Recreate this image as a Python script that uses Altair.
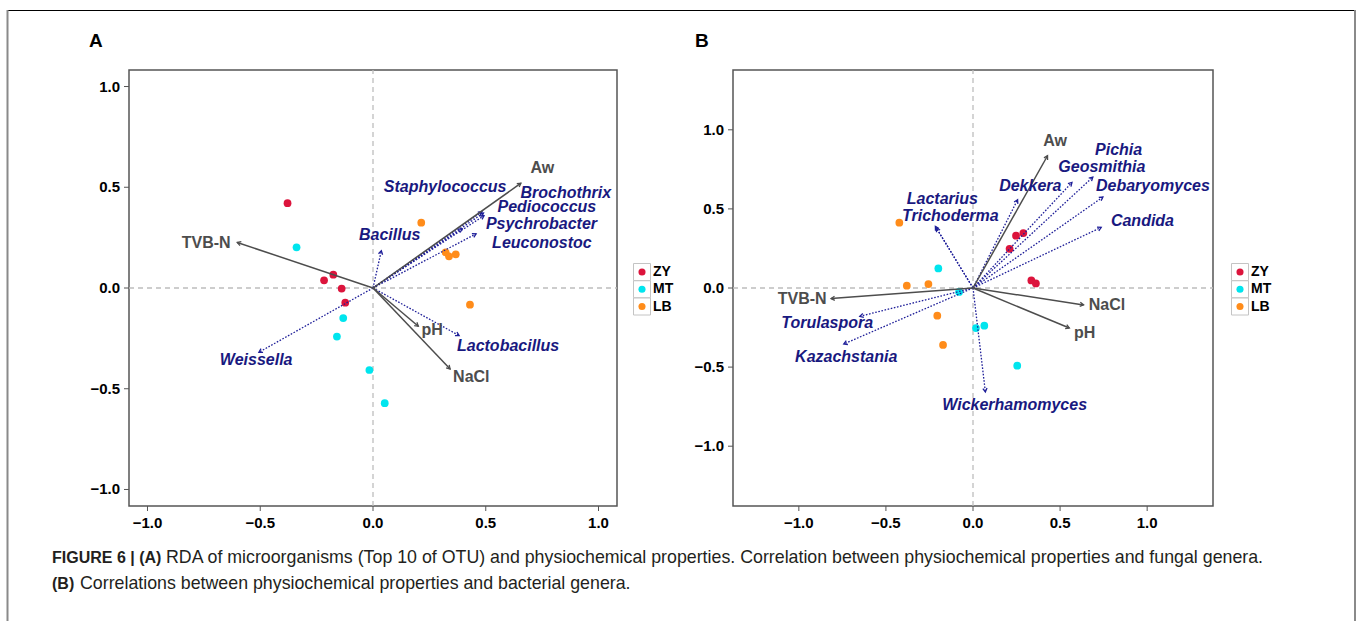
import math

import altair as alt
import pandas as pd

FONT = "Liberation Sans"
GROUPS = ["ZY", "MT", "LB"]
GROUP_COLORS = ["#DC143C", "#00E5EE", "#FF8C1A"]
ENV_COLOR = "#4d4d4d"
GEN_COLOR = "#1f1f99"
GEN_TEXT = "#191980"
TICKS = [-1.0, -0.5, 0.0, 0.5, 1.0]

# ---------------- Panel A ----------------
a_site_group = ["ZY"] * 5 + ["MT"] * 5 + ["LB"] * 5
a_site_x = [-0.379, -0.176, -0.217, -0.139, -0.123,
            -0.339, -0.132, -0.160, -0.016, 0.052,
            0.214, 0.322, 0.337, 0.367, 0.430]
a_site_y = [0.421, 0.066, 0.038, -0.003, -0.073,
            0.202, -0.149, -0.241, -0.407, -0.572,
            0.324, 0.177, 0.157, 0.167, -0.083]

a_env = ["TVB-N", "Aw", "pH", "NaCl"]
a_env_x = [-0.602, 0.656, 0.201, 0.342]
a_env_y = [0.226, 0.520, -0.190, -0.402]
a_env_lx = [-0.740, 0.751, 0.262, 0.436]
a_env_ly = [0.223, 0.595, -0.210, -0.443]

a_gen = ["Staphylococcus", "Brochothrix", "Pediococcus", "Psychrobacter",
         "Leuconostoc", "Bacillus", "Weissella", "Lactobacillus"]
a_gen_x = [0.395, 0.483, 0.490, 0.492, 0.457, 0.037, -0.506, 0.382]
a_gen_y = [0.294, 0.378, 0.372, 0.359, 0.269, 0.185, -0.319, -0.236]
a_gen_lx = [0.320, 0.855, 0.771, 0.747, 0.749, 0.074, -0.518, 0.599]
a_gen_ly = [0.502, 0.471, 0.400, 0.317, 0.225, 0.261, -0.359, -0.289]

# ---------------- Panel B ----------------
b_site_group = ["ZY"] * 5 + ["MT"] * 5 + ["LB"] * 5
b_site_x = [0.247, 0.289, 0.210, 0.335, 0.361,
            -0.199, -0.080, 0.017, 0.065, 0.254,
            -0.423, -0.380, -0.256, -0.205, -0.172]
b_site_y = [0.331, 0.347, 0.248, 0.048, 0.029,
            0.124, -0.025, -0.253, -0.238, -0.491,
            0.413, 0.015, 0.025, -0.175, -0.360]

b_env = ["Aw", "TVB-N", "NaCl", "pH"]
b_env_x = [0.428, -0.815, 0.635, 0.553]
b_env_y = [0.836, -0.067, -0.107, -0.253]
b_env_lx = [0.472, -0.981, 0.769, 0.641]
b_env_ly = [0.931, -0.067, -0.107, -0.284]

b_gen = ["Lactarius", "Trichoderma", "Dekkera", "Geosmithia", "Pichia",
         "Debaryomyces", "Candida", "Torulaspora", "Kazachstania",
         "Wickerhamomyces"]
b_gen_x = [-0.216, -0.210, 0.256, 0.568, 0.688, 0.746, 0.736, -0.650, -0.742, 0.071]
b_gen_y = [0.389, 0.379, 0.558, 0.667, 0.701, 0.575, 0.383, -0.179, -0.354, -0.657]
b_gen_lx = [-0.176, -0.130, 0.329, 0.740, 0.836, 1.033, 0.973, -0.837, -0.728, 0.239]
b_gen_ly = [0.562, 0.453, 0.646, 0.768, 0.874, 0.646, 0.425, -0.221, -0.436, -0.741]

CAPTION_1B = "FIGURE 6 | (A)"
CAPTION_1 = ("RDA of microorganisms (Top 10 of OTU) and physiochemical properties. "
             "Correlation between physiochemical properties and fungal genera.")
CAPTION_2B = "(B)"
CAPTION_2 = "Correlations between physiochemical properties and bacterial genera."

# open arrow head, tip at the symbol centre, pointing up before rotation
ARROW_HEAD = "M-0.5,0.866L0,0L0.5,0.866"


def vectors(names, xs, ys, lxs, lys, kx, ky):
    df = pd.DataFrame({"name": names, "x": xs, "y": ys, "lx": lxs, "ly": lys})
    df["x0"] = 0.0
    df["y0"] = 0.0
    df["angle"] = [
        math.degrees(math.atan2(x * kx, y * ky)) % 360 for x, y in zip(xs, ys)
    ]
    return df


def panel(dom, xr, yr, groups, sx, sy, env, gen):
    kx = (xr[1] - xr[0]) / (2 * dom)
    ky = (yr[0] - yr[1]) / (2 * dom)
    xs = alt.Scale(domain=[-dom, dom], range=xr, nice=False, zero=False)
    ys = alt.Scale(domain=[-dom, dom], range=yr, nice=False, zero=False)

    def X(field):
        return alt.X(field, scale=xs, axis=None)

    def Y(field):
        return alt.Y(field, scale=ys, axis=None)

    frame_df = pd.DataFrame({"x0": [-dom], "x1": [dom], "y0": [-dom], "y1": [dom]})
    frame = alt.Chart(frame_df).mark_rect(
        fillOpacity=0, stroke="#555555", strokeWidth=1.5
    ).encode(x=X("x0:Q"), x2="x1:Q", y=Y("y0:Q"), y2="y1:Q")

    # tick marks and tick labels, placed through the panel's own scales
    tick_df = pd.DataFrame({"v": TICKS})
    tick_text = dict(font=FONT, fontSize=15, fontWeight="bold", color="black")
    x_ticks = alt.Chart(tick_df).mark_rule(color="#555555", strokeWidth=1).encode(
        x=X("v:Q"), y=alt.value(yr[0]), y2=alt.value(yr[0] + 5)
    )
    x_labels = alt.Chart(tick_df).mark_text(
        align="center", baseline="middle", **tick_text
    ).encode(x=X("v:Q"), y=alt.value(yr[0] + 17), text=alt.Text("v:Q", format=".1f"))
    y_ticks = alt.Chart(tick_df).mark_rule(color="#555555", strokeWidth=1).encode(
        y=Y("v:Q"), x=alt.value(xr[0] - 5), x2=alt.value(xr[0])
    )
    y_labels = alt.Chart(tick_df).mark_text(
        align="right", baseline="middle", **tick_text
    ).encode(y=Y("v:Q"), x=alt.value(xr[0] - 9), text=alt.Text("v:Q", format=".1f"))

    zero_df = pd.DataFrame({"x0": [0.0, -dom], "x1": [0.0, dom],
                            "y0": [-dom, 0.0], "y1": [dom, 0.0]})
    zero = alt.Chart(zero_df).mark_rule(
        color="#bdbdbd", strokeWidth=1.3, strokeDash=[5, 4]
    ).encode(x=X("x0:Q"), x2="x1:Q", y=Y("y0:Q"), y2="y1:Q")

    env_df = vectors(*env, kx, ky)
    gen_df = vectors(*gen, kx, ky)

    def shafts(df, color, dash, width):
        kw = dict(color=color, strokeWidth=width)
        if dash:
            kw["strokeDash"] = dash
        return alt.Chart(df).mark_rule(**kw).encode(
            x=X("x0:Q"), x2="x:Q", y=Y("y0:Q"), y2="y:Q"
        )

    def heads(df, color):
        return alt.Chart(df).mark_point(
            shape=ARROW_HEAD, filled=False, size=70, color=color,
            strokeWidth=1.3, opacity=1,
        ).encode(x=X("x:Q"), y=Y("y:Q"), angle=alt.Angle("angle:Q", scale=None))

    def labels(df, color, style):
        kw = dict(font=FONT, fontSize=16, fontWeight="bold", color=color,
                  align="center", baseline="middle")
        if style:
            kw["fontStyle"] = style
        return alt.Chart(df).mark_text(**kw).encode(
            x=X("lx:Q"), y=Y("ly:Q"), text="name:N"
        )

    site_df = pd.DataFrame({"group": groups, "x": sx, "y": sy})
    sites = alt.Chart(site_df).mark_circle(size=60, opacity=1).encode(
        x=X("x:Q"), y=Y("y:Q"),
        color=alt.Color("group:N", scale=alt.Scale(domain=GROUPS, range=GROUP_COLORS),
                        legend=None),
    )

    return alt.layer(
        frame, x_ticks, x_labels, y_ticks, y_labels, zero, sites,
        shafts(gen_df, GEN_COLOR, [1.6, 1.6], 1.3), heads(gen_df, GEN_COLOR),
        shafts(env_df, ENV_COLOR, None, 1.5), heads(env_df, ENV_COLOR),
        labels(env_df, ENV_COLOR, None), labels(gen_df, GEN_TEXT, "italic"),
    )


def legend(x_key):
    df = pd.DataFrame({"group": GROUPS})
    ys = alt.Scale(domain=GROUPS, range=[272, 306.5], padding=0)
    y = alt.Y("group:N", scale=ys, axis=None)
    box = alt.Chart(df).mark_square(
        size=17 * 17, fill="white", stroke="#c4c4c4", strokeWidth=1, opacity=1
    ).encode(x=alt.value(x_key), y=y)
    dot = alt.Chart(df).mark_circle(size=50, opacity=1).encode(
        x=alt.value(x_key), y=y,
        color=alt.Color("group:N", scale=alt.Scale(domain=GROUPS, range=GROUP_COLORS),
                        legend=None),
    )
    txt = alt.Chart(df).mark_text(
        font=FONT, fontSize=14, fontWeight="bold", color="black",
        align="left", baseline="middle",
    ).encode(x=alt.value(x_key + 11), y=y, text="group:N")
    return alt.layer(box, dot, txt)


one = pd.DataFrame({"k": [0]})


def note(text, x, y, size, weight="normal", color="#231f20"):
    return alt.Chart(one).mark_text(
        text=text, font=FONT, fontSize=size, fontWeight=weight, color=color,
        align="left", baseline="middle",
    ).encode(x=alt.value(x), y=alt.value(y))


def line(x, y, x2=None, y2=None, color="#000000", width=1.0):
    enc = dict(x=alt.value(x), y=alt.value(y))
    if x2 is not None:
        enc["x2"] = alt.value(x2)
    if y2 is not None:
        enc["y2"] = alt.value(y2)
    return alt.Chart(one).mark_rule(color=color, strokeWidth=width).encode(**enc)


decor = alt.layer(
    line(8, 10.5, x2=1355, color="#000000", width=1.2),
    line(7.5, 10, y2=621, color="#8a8a8a", width=2),
    line(1355, 10, y2=621, color="#8a8a8a", width=2),
    note("A", 89, 41, 19, "bold", "#000000"),
    note("B", 695, 41, 19, "bold", "#000000"),
    note(CAPTION_1B, 52, 558, 16, "bold"),
    note(CAPTION_1, 166, 558, 17.8),
    note(CAPTION_2B, 52, 584, 16, "bold"),
    note(CAPTION_2, 80, 584, 17.8),
)

panel_a = panel(
    1.082, [129, 617], [506, 70], a_site_group, a_site_x, a_site_y,
    (a_env, a_env_x, a_env_y, a_env_lx, a_env_ly),
    (a_gen, a_gen_x, a_gen_y, a_gen_lx, a_gen_ly),
)
panel_b = panel(
    1.378, [733, 1213], [506, 70], b_site_group, b_site_x, b_site_y,
    (b_env, b_env_x, b_env_y, b_env_lx, b_env_ly),
    (b_gen, b_gen_x, b_gen_y, b_gen_lx, b_gen_ly),
)

chart = alt.layer(
    decor, panel_a, panel_b, legend(642), legend(1240)
).resolve_scale(
    x="independent", y="independent"
).properties(
    width=1358, height=621, padding=0,
    autosize=alt.AutoSizeParams(type="none"),
    background="white",
).configure_view(stroke="transparent")

chart.save("out.html", embed_options={"renderer": "svg", "actions": False})
